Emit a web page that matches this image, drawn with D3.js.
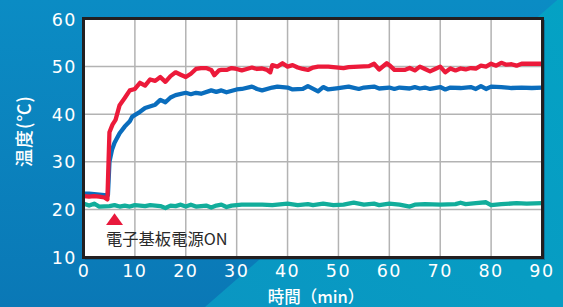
<!DOCTYPE html>
<html><head><meta charset="utf-8">
<script src="https://cdn.jsdelivr.net/npm/d3@7"></script>
<style>html,body{margin:0;padding:0;overflow:hidden;background:#0a84be}</style>
</head><body>
<svg id="c" width="563" height="307"></svg>
<script>
const xTicks = [0,10,20,30,40,50,60,70,80,90];
const yTicks = [10,20,30,40,50,60];
const xTitle = "時間（min）";
const yTitle = "温度(℃)";
const annotation = "電子基板電源ON";
const annotationT = 6;

const redT = [0,1,2,3,4,4.6,5,5.6,6.2,7,8,9,10,11,12,13,14,15,16,17,18,19,20,21,22,23,24,25,25.6,26.5,27,28,29,30,31,32,33,34,35,36,36.6,37,38,39,40,41,42,43,44,45,46,47,48,50,51,52,54,56,57,58,59.5,60,61,63,64,65,66,67,68,69,70,71,72,73,74,75,76,77,78,79,80,81,82,83,84,85,86,88,90];
const redV = [22.8,22.7,22.8,22.7,22.5,22.1,36.2,37.8,38.8,41.9,43.4,45.0,45.3,46.6,46.0,47.3,47.0,47.8,46.8,48.0,48.8,48.3,47.8,48.5,49.5,49.7,49.7,49.3,48.2,49.2,49.3,49.3,49.7,49.5,49.2,49.5,49.8,49.5,49.6,49.3,48.8,50.3,50.0,50.7,50.0,50.3,49.8,49.5,49.3,49.8,50.0,50.0,50.0,49.8,49.7,49.9,50.0,50.1,50.6,49.4,50.7,50.3,49.3,49.3,49.7,49.2,50.0,49.5,49.0,49.5,50.0,48.8,49.6,49.2,49.6,49.4,49.7,49.6,50.2,50.0,50.6,50.2,50.8,50.4,50.5,50.2,50.6,50.6,50.6];

const blueT = [0,1,2,3,4,4.7,5,5.5,6,7,8,9,9.5,11,12,14,15,16,17,18,20,21,22,23,25,26,27,28,30,31,33,34,35,37,38,40,41,43,44,46,47,48,50,52,54,55,57,58,60,61,62,64,65,66,67,68,70,71,72,74,76,77,78,79,80,82,84,86,88,90];
const blueV = [23.3,23.3,23.2,23.1,23.0,23.0,30.0,32.5,34.0,36.0,37.4,38.5,39.5,40.5,41.3,42.0,43.0,42.5,43.5,44.0,44.5,44.2,44.5,44.3,45.0,44.7,45.0,44.6,45.2,45.3,45.8,45.3,45.0,45.6,45.8,45.6,45.2,45.3,45.9,44.8,45.7,45.2,45.5,45.8,45.3,45.6,45.8,45.4,45.6,45.3,45.6,45.4,45.7,45.4,45.6,45.3,45.7,45.2,45.6,45.5,45.7,45.3,45.9,45.3,45.8,45.7,45.5,45.6,45.5,45.6];

const tealT = [0,1,2,3,5,6,7,8,9,10,12,13,15,16,17,18,19,20,21,22,24,25,26,27,28,29,31,35,37,40,42,44,45,47,49,51,53,55,57,58,60,62,64,65,67,70,73,74,75,77,79,80,82,85,87,90];
const tealV = [21.2,20.8,21.2,20.6,20.7,20.9,20.6,20.8,20.6,20.9,20.7,20.9,20.7,20.3,20.8,20.7,21.0,20.6,21.0,20.6,20.8,20.4,20.8,21.0,20.5,20.8,21.0,21.0,20.9,21.2,20.9,21.1,20.9,21.2,20.9,21.0,21.4,21.0,21.2,20.9,21.2,21.0,20.6,21.0,21.1,21.0,21.1,21.4,21.1,21.3,21.5,20.9,21.1,21.3,21.2,21.3];

const svg = d3.select("#c");
const W = 563, H = 307;
const defs = svg.append("defs");
const g1 = defs.append("linearGradient").attr("id","bg1").attr("x1","0").attr("y1","0").attr("x2","0").attr("y2","1");
g1.append("stop").attr("offset","0").attr("stop-color","#0b8cc4");
g1.append("stop").attr("offset","1").attr("stop-color","#0a78b6");
const g2 = defs.append("linearGradient").attr("id","bg2").attr("x1","0").attr("y1","1").attr("x2","1").attr("y2","0");
g2.append("stop").attr("offset","0").attr("stop-color","#0a96c2");
g2.append("stop").attr("offset","1").attr("stop-color","#04a2c4");
svg.append("rect").attr("width",W).attr("height",H).attr("fill","url(#bg1)");
svg.append("path").attr("d",`M205,${H} L563,-5 L563,${H} Z`).attr("fill","url(#bg2)");

const m = {l:84, r:542, t:19, b:257};
const x = d3.scaleLinear().domain([0,90]).range([m.l,m.r]);
const y = d3.scaleLinear().domain([10,60]).range([m.b,m.t]);

svg.append("rect").attr("x",m.l+1).attr("y",m.t+1).attr("width",m.r-m.l+2).attr("height",m.b-m.t+2).attr("fill","#0b4f7a").attr("opacity",0.5);
svg.append("rect").attr("x",m.l).attr("y",m.t).attr("width",m.r-m.l).attr("height",m.b-m.t).attr("fill","#fff");

const grid = svg.append("g").attr("stroke","#b3b3b3").attr("stroke-width",1.5);
grid.selectAll("line.v").data(xTicks.slice(1,-1)).join("line")
  .attr("x1",d=>x(d)).attr("x2",d=>x(d)).attr("y1",m.t).attr("y2",m.b);
grid.selectAll("line.h").data(yTicks.slice(1,-1)).join("line")
  .attr("y1",d=>y(d)).attr("y2",d=>y(d)).attr("x1",m.l).attr("x2",m.r);

const line = d3.line().x(d=>x(d[0])).y(d=>y(d[1])).curve(d3.curveLinear);
const series = [
  {t:tealT, v:tealV, c:"#12ad9b"},
  {t:blueT, v:blueV, c:"#0a6dbd"},
  {t:redT, v:redV, c:"#ec1a3a"}
];
series.forEach(s=>{
  svg.append("path").datum(s.t.map((t,i)=>[t,s.v[i]]))
    .attr("d",line).attr("fill","none").attr("stroke",s.c)
    .attr("stroke-width",4.3).attr("stroke-linejoin","round").attr("stroke-linecap","butt");
});

svg.append("rect").attr("x",m.l-0.5).attr("y",m.t-0.5).attr("width",m.r-m.l+1).attr("height",m.b-m.t+1)
  .attr("fill","none").attr("stroke","#231f20").attr("stroke-width",3);

const ax = x(annotationT);
svg.append("path").attr("d",d3.symbol().type(d3.symbolTriangle).size(80)()).attr("transform",`translate(${ax},${221}) scale(1.25,1)`).attr("fill","#e8193c");
svg.append("text").attr("x",106).attr("y",245).attr("font-family","'Noto Sans CJK JP'").attr("font-size",16.3)
  .attr("fill","#2a2a2a").text(annotation);

const tf = "'DejaVu Sans'";
svg.append("g").selectAll("text").data(xTicks).join("text")
  .attr("x",d=>x(d)).attr("y",277).attr("text-anchor","middle")
  .attr("font-family",tf).attr("font-size",17.5).attr("letter-spacing",1.5).attr("fill","#fff").text(d=>d);
svg.append("g").selectAll("text").data(yTicks).join("text")
  .attr("x",77).attr("y",d=>y(d)+6.5).attr("text-anchor","end")
  .attr("font-family",tf).attr("font-size",17.5).attr("letter-spacing",1.5).attr("fill","#fff").text(d=>d);

svg.append("text").attr("x",316).attr("y",303).attr("text-anchor","middle")
  .attr("font-family","'Noto Sans CJK JP'").attr("font-size",16.5).attr("font-weight",500).attr("fill","#fff").text(xTitle);
svg.append("text").attr("transform","translate(31,131) rotate(-90)").attr("text-anchor","middle")
  .attr("font-family","'Noto Sans CJK JP'").attr("font-size",18).attr("letter-spacing",1).attr("font-weight",500).attr("fill","#fff").text(yTitle);
</script>
</body></html>
